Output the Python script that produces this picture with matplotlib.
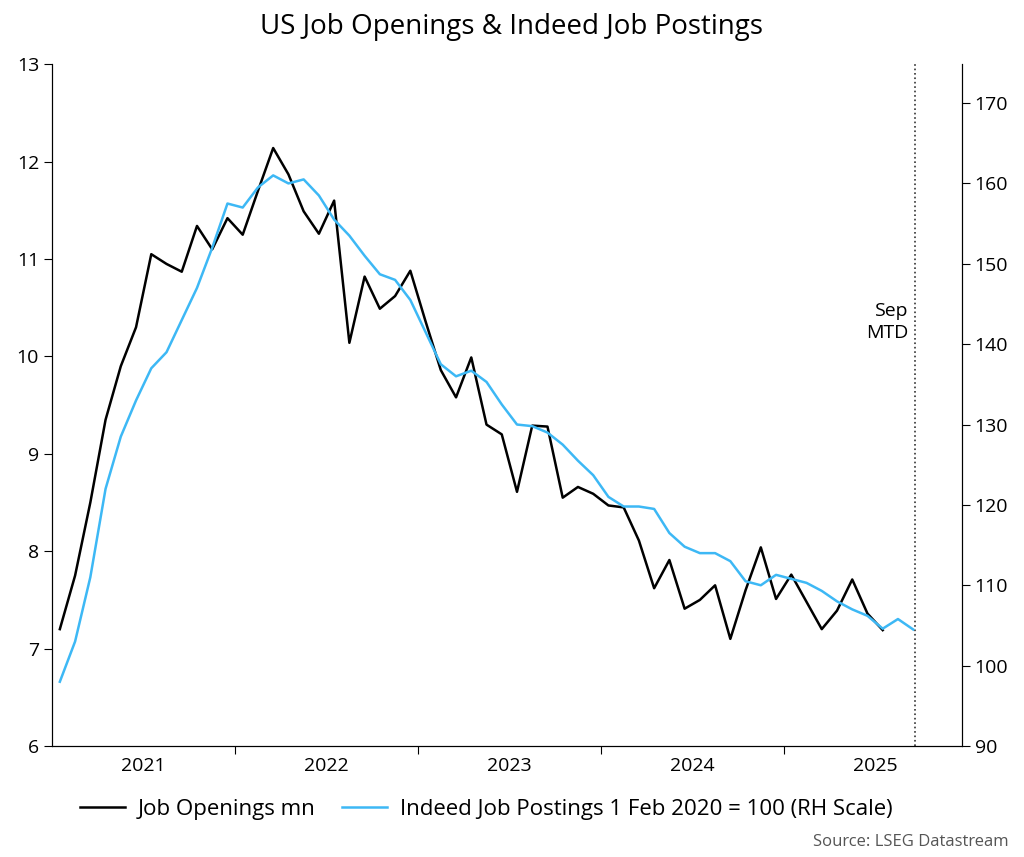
import matplotlib
matplotlib.use("Agg")
import matplotlib.pyplot as plt
import numpy as np

plt.rcParams['font.family'] = 'Open Sans'

job_openings = [7.2,7.75,8.5,9.35,9.9,10.3,11.05,10.95,10.87,11.34,11.1,11.42,
 11.25,11.7,12.14,11.87,11.49,11.26,11.6,10.14,10.82,10.49,10.62,10.88,
 10.36,9.86,9.58,9.99,9.3,9.2,8.61,9.29,9.28,8.55,8.66,8.59,
 8.47,8.45,8.11,7.62,7.91,7.41,7.5,7.65,7.1,7.6,8.04,7.51,
 7.76,7.48,7.2,7.39,7.71,7.36,7.19]
indeed = [98,103,111,122,128.5,133,137,139,143,147,152,157.5,
 157,159.5,161,160,160.5,158.5,155.5,153.5,151,148.7,148,145.5,
 141.5,137.5,136,136.7,135.3,132.5,130,129.8,129,127.5,125.5,123.7,
 121,119.8,119.8,119.5,116.5,114.8,114,114,113,110.5,110,111.3,
 110.8,110.3,109.3,108,107,106.2,104.6,105.8,104.5]
years = [2021,2022,2023,2024,2025]

x_jo = 2021 + (np.arange(len(job_openings)) + 0.5) / 12
x_in = 2021 + (np.arange(len(indeed)) + 0.5) / 12

fig = plt.figure(figsize=(10.24, 8.57), dpi=100)
ax = fig.add_axes([0.051, 0.1295, 0.888, 0.7955])
ax2 = ax.twinx()
l1, = ax.plot(x_jo, job_openings, color='black', lw=1.8)
l2, = ax2.plot(x_in, indeed, color='#3db8f5', lw=1.8)
ax.set_ylim(6, 13)
ax2.set_ylim(90, 90 + 682/8.04)
ax.set_xlim(2021.0, 2021 + 910/183)
ax.set_yticks(range(6, 14))
ax2.set_yticks(range(90, 171, 10))
ax.set_xticks(years[1:])
ax.set_xticklabels([])
ax.set_xticks([y + 0.5 for y in years], minor=True)
ax.set_xticklabels([str(y) for y in years], minor=True)
ax.tick_params(axis='x', which='minor', length=0, labelsize=14, pad=8)
ax.tick_params(axis='x', which='major', length=6, direction='out')
ax.tick_params(axis='y', labelsize=14, length=6)
ax2.tick_params(axis='y', labelsize=14, length=6)
for a in (ax, ax2):
    a.spines['top'].set_visible(False)
ax.axvline(2025 + 8.6/12, color='#333333', ls=':', lw=1.2)
ax.text(2025 + 8.2/12, 10.35, 'Sep\nMTD', ha='right', va='center', fontsize=14, linespacing=1.3)
fig.suptitle('US Job Openings & Indeed Job Postings', fontsize=20, y=0.985)
fig.legend([l1, l2], ['Job Openings mn', 'Indeed Job Postings 1 Feb 2020 = 100 (RH Scale)'],
           loc='lower center', bbox_to_anchor=(0.475, 0.02), ncol=2, frameon=False,
           fontsize=16, handlelength=2.0, columnspacing=1.2, handletextpad=0.6)
fig.text(0.985, 0.008, 'Source: LSEG Datastream', ha='right', va='bottom', fontsize=12, color='#555555')
fig.savefig('out.png', dpi=100)
